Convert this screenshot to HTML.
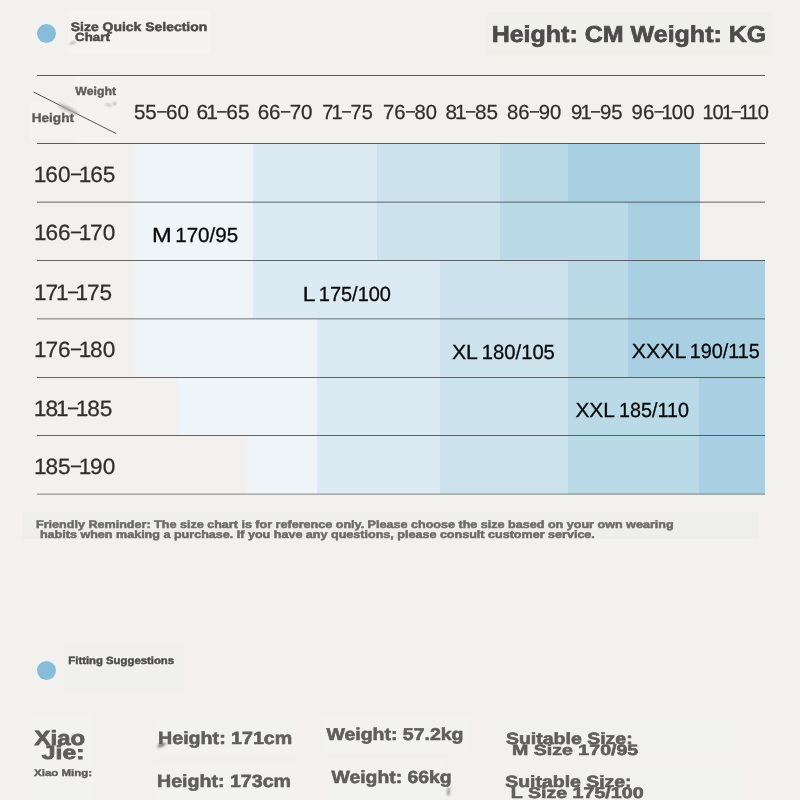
<!DOCTYPE html>
<html lang="en"><head><meta charset="utf-8"><title>Size Quick Selection Chart</title>
<style>
html,body{margin:0;padding:0}
body{width:800px;height:800px;overflow:hidden;background:#f3f1ed;position:relative;font-family:"Liberation Sans",Arial,Helvetica,sans-serif;text-rendering:geometricPrecision}
header,section,footer{display:block;margin:0;padding:0}
.a{position:absolute}
.row{left:0;width:800px}
.row i{top:0;height:100%;display:block}
.ln{left:37px;width:728px}
.dot{border-radius:50%;background:#86bdd8}
.t{position:absolute;left:0;white-space:pre;line-height:1;transform-origin:0 0;margin:0}
.b{font-weight:700}
.o{margin:0 -0.05em 0 -0.09em}
.d{display:inline-block;transform:scaleX(0.8);margin:0 -0.055em;position:relative;top:-0.09em}
</style></head><body>
<header class="title">
<div class="a p" style="left:67.5px;top:10px;width:143.5px;height:44px;background:#f4f3f0"></div>
<div class="a p" style="left:487px;top:12px;width:285px;height:43px;background:#f0f0eb"></div>
<div class="a dot" style="left:37.0px;top:24.0px;width:19.0px;height:19.0px"></div>
<div class="a" style="left:68.5px;top:42.0px;width:7px;height:2px;background:#8a8a88;border-radius:50%;opacity:0.7;filter:blur(1px);transform:rotate(-20deg)"></div>
<div class="t b" style="top:21px;font-size:12.28px;color:#4d4c4a;transform:translateX(70.80px) scaleX(1.1376);-webkit-text-stroke:0.5px #4d4c4a;">Size Quick Selection</div>
<div class="t b" style="top:32px;font-size:11.78px;color:#4d4c4a;transform:translateX(75.09px) scaleX(1.1298);-webkit-text-stroke:0.5px #4d4c4a;">Chart</div>
<div class="t b" style="top:23px;font-size:23.05px;color:#4d4c4a;transform:translateX(491.65px) scaleX(1.0852);-webkit-text-stroke:0.7px #4d4c4a;">Height: CM Weight: KG</div>
</header>
<section class="chart">
<div class="a p" style="left:74px;top:76px;width:46px;height:67px;background:#f4f3f0"></div>
<div class="a p" style="left:30px;top:102px;width:44px;height:38px;background:#f4f3f0"></div>
<div class="a row" style="top:143px;height:59px"><i class="a" style="left:135px;width:564.7px;background:#edf5f9"></i><i class="a" style="left:253px;width:446.7px;background:#dceaf3"></i><i class="a" style="left:377px;width:322.7px;background:#cce3ee"></i><i class="a" style="left:500.3px;width:199.4px;background:#bbdae8"></i><i class="a" style="left:567.5px;width:132.2px;background:#a8d0e2"></i></div>
<div class="a row" style="top:202px;height:58px"><i class="a" style="left:135px;width:564.7px;background:#edf5f9"></i><i class="a" style="left:253px;width:446.7px;background:#dceaf3"></i><i class="a" style="left:377px;width:322.7px;background:#cce3ee"></i><i class="a" style="left:500.3px;width:199.4px;background:#bbdae8"></i><i class="a" style="left:628.2px;width:71.5px;background:#a8d0e2"></i></div>
<div class="a row" style="top:260px;height:59px"><i class="a" style="left:135px;width:630.0px;background:#edf5f9"></i><i class="a" style="left:253px;width:512.0px;background:#dceaf3"></i><i class="a" style="left:440px;width:325.0px;background:#cce3ee"></i><i class="a" style="left:568px;width:197.0px;background:#bbdae8"></i><i class="a" style="left:628.2px;width:136.8px;background:#a8d0e2"></i></div>
<div class="a row" style="top:319px;height:58px"><i class="a" style="left:135px;width:630.0px;background:#edf5f9"></i><i class="a" style="left:317px;width:448.0px;background:#dceaf3"></i><i class="a" style="left:440px;width:325.0px;background:#cce3ee"></i><i class="a" style="left:568px;width:197.0px;background:#bbdae8"></i><i class="a" style="left:628.2px;width:136.8px;background:#a8d0e2"></i></div>
<div class="a row" style="top:377px;height:58px"><i class="a" style="left:178px;width:587.0px;background:#edf5f9"></i><i class="a" style="left:317px;width:448.0px;background:#dceaf3"></i><i class="a" style="left:440px;width:325.0px;background:#cce3ee"></i><i class="a" style="left:568px;width:197.0px;background:#bbdae8"></i><i class="a" style="left:699px;width:66.0px;background:#a8d0e2"></i></div>
<div class="a row" style="top:435px;height:59px"><i class="a" style="left:247px;width:518.0px;background:#edf5f9"></i><i class="a" style="left:317px;width:448.0px;background:#dceaf3"></i><i class="a" style="left:440px;width:325.0px;background:#cce3ee"></i><i class="a" style="left:568px;width:197.0px;background:#bbdae8"></i><i class="a" style="left:699px;width:66.0px;background:#a8d0e2"></i></div>
<div class="a ln" style="top:75px;height:1px;background:rgba(70,68,65,0.88)"></div>
<div class="a ln" style="top:143px;height:1px;background:rgba(70,68,65,0.88)"></div>
<div class="a ln" style="top:201px;height:2px;background:linear-gradient(to bottom,rgba(62,64,67,0.3) 50%,rgba(62,64,67,0.5) 50%)"></div>
<div class="a ln" style="top:260px;height:1px;background:rgba(66,65,66,0.8)"></div>
<div class="a ln" style="top:318px;height:2px;background:linear-gradient(to bottom,rgba(62,64,67,0.45) 50%,rgba(62,64,67,0.25) 50%)"></div>
<div class="a ln" style="top:377px;height:1px;background:rgba(66,65,66,0.8)"></div>
<div class="a ln" style="top:435px;height:1px;background:rgba(66,65,66,0.8)"></div>
<div class="a ln" style="top:493px;height:2px;background:linear-gradient(to bottom,rgba(80,78,75,0.25) 50%,rgba(80,78,75,0.42) 50%)"></div>
<svg class="a" style="left:30px;top:88px" width="90" height="50" viewBox="30 88 90 50"><line x1="33.5" y1="92" x2="116" y2="133.5" stroke="#55534f" stroke-width="1"/></svg>
<div class="a" style="left:57.5px;top:107.4px;width:20px;height:3px;background:#f3f1ed;border-radius:50%;opacity:0.9;filter:blur(1.2px);transform:rotate(26.7deg)"></div>
<div class="a" style="left:56.5px;top:107.2px;width:22px;height:3.5px;background:#8d8c89;border-radius:50%;opacity:0.75;filter:blur(1.6px);transform:rotate(26.7deg)"></div>
<div class="a" style="left:104.5px;top:104.2px;width:7px;height:2.2px;background:#9a9a98;border-radius:50%;opacity:0.65;filter:blur(1px);transform:rotate(15deg)"></div>
<div class="a" style="left:112.5px;top:101.8px;width:3.5px;height:3.5px;background:#858583;border-radius:50%;opacity:0.7;filter:blur(1px);transform:rotate(0deg)"></div>
<div class="t" style="top:103px;font-size:20.40px;color:#2f2f2e;transform:translateX(133.91px) scaleX(1.0089);-webkit-text-stroke:0.25px #2f2f2e;">55<span class="d">–</span>60</div>
<div class="t" style="top:103px;font-size:20.40px;color:#2f2f2e;transform:translateX(196.57px) scaleX(1.0254);-webkit-text-stroke:0.25px #2f2f2e;">6<span class="o">1</span><span class="d">–</span>65</div>
<div class="t" style="top:103px;font-size:20.40px;color:#2f2f2e;transform:translateX(257.63px) scaleX(1.0077);-webkit-text-stroke:0.25px #2f2f2e;">66<span class="d">–</span>70</div>
<div class="t" style="top:103px;font-size:20.40px;color:#2f2f2e;transform:translateX(322.28px) scaleX(0.9777);-webkit-text-stroke:0.25px #2f2f2e;">7<span class="o">1</span><span class="d">–</span>75</div>
<div class="t" style="top:103px;font-size:20.40px;color:#2f2f2e;transform:translateX(383.11px) scaleX(0.9879);-webkit-text-stroke:0.25px #2f2f2e;">76<span class="d">–</span>80</div>
<div class="t" style="top:103px;font-size:20.40px;color:#2f2f2e;transform:translateX(445.44px) scaleX(1.0169);-webkit-text-stroke:0.25px #2f2f2e;">8<span class="o">1</span><span class="d">–</span>85</div>
<div class="t" style="top:103px;font-size:20.40px;color:#2f2f2e;transform:translateX(507.10px) scaleX(0.9936);-webkit-text-stroke:0.25px #2f2f2e;">86<span class="d">–</span>90</div>
<div class="t" style="top:103px;font-size:20.40px;color:#2f2f2e;transform:translateX(571.03px) scaleX(0.9967);-webkit-text-stroke:0.25px #2f2f2e;">9<span class="o">1</span><span class="d">–</span>95</div>
<div class="t" style="top:103px;font-size:20.40px;color:#2f2f2e;transform:translateX(631.59px) scaleX(0.9980);-webkit-text-stroke:0.25px #2f2f2e;">96<span class="d">–</span><span class="o">1</span>00</div>
<div class="t" style="top:103px;font-size:20.40px;color:#2f2f2e;transform:translateX(704.25px) scaleX(0.9805);-webkit-text-stroke:0.25px #2f2f2e;"><span class="o">1</span>0<span class="o">1</span><span class="d">–</span><span class="o">1</span><span class="o">1</span>0</div>
<div class="t" style="top:164px;font-size:22.10px;color:#2f2f2e;transform:translateX(35.90px) scaleX(1.0260);-webkit-text-stroke:0.25px #2f2f2e;"><span class="o">1</span>60<span class="d">–</span><span class="o">1</span>65</div>
<div class="t" style="top:222px;font-size:22.10px;color:#2f2f2e;transform:translateX(36.00px) scaleX(1.0228);-webkit-text-stroke:0.25px #2f2f2e;"><span class="o">1</span>66<span class="d">–</span><span class="o">1</span>70</div>
<div class="t" style="top:282px;font-size:22.10px;color:#2f2f2e;transform:translateX(35.98px) scaleX(1.0222);-webkit-text-stroke:0.25px #2f2f2e;"><span class="o">1</span>7<span class="o">1</span><span class="d">–</span><span class="o">1</span>75</div>
<div class="t" style="top:339px;font-size:22.10px;color:#2f2f2e;transform:translateX(36.00px) scaleX(1.0228);-webkit-text-stroke:0.25px #2f2f2e;"><span class="o">1</span>76<span class="d">–</span><span class="o">1</span>80</div>
<div class="t" style="top:398px;font-size:22.10px;color:#2f2f2e;transform:translateX(35.91px) scaleX(1.0286);-webkit-text-stroke:0.25px #2f2f2e;"><span class="o">1</span>8<span class="o">1</span><span class="d">–</span><span class="o">1</span>85</div>
<div class="t" style="top:456px;font-size:22.10px;color:#2f2f2e;transform:translateX(36.00px) scaleX(1.0228);-webkit-text-stroke:0.25px #2f2f2e;"><span class="o">1</span>85<span class="d">–</span><span class="o">1</span>90</div>
<div class="lab"><div class="t" style="top:226px;font-size:20.40px;color:#0a0a0a;transform:translateX(152.03px) scaleX(1.1640);-webkit-text-stroke:0.3px #0a0a0a;">M</div> <div class="t" style="top:226px;font-size:20.40px;color:#0a0a0a;transform:translateX(175.25px) scaleX(1.0075);-webkit-text-stroke:0.3px #0a0a0a;">170/95</div></div>
<div class="lab"><div class="t" style="top:285px;font-size:20.40px;color:#0a0a0a;transform:translateX(302.67px) scaleX(1.1139);-webkit-text-stroke:0.3px #0a0a0a;">L</div> <div class="t" style="top:285px;font-size:20.40px;color:#0a0a0a;transform:translateX(318.78px) scaleX(0.9791);-webkit-text-stroke:0.3px #0a0a0a;">175/100</div></div>
<div class="lab"><div class="t" style="top:343px;font-size:20.40px;color:#0a0a0a;transform:translateX(451.92px) scaleX(1.0440);-webkit-text-stroke:0.3px #0a0a0a;">XL</div> <div class="t" style="top:343px;font-size:20.40px;color:#0a0a0a;transform:translateX(481.80px) scaleX(0.9912);-webkit-text-stroke:0.3px #0a0a0a;">180/105</div></div>
<div class="lab"><div class="t" style="top:342px;font-size:20.40px;color:#0a0a0a;transform:translateX(631.74px) scaleX(1.0497);-webkit-text-stroke:0.3px #0a0a0a;">XXXL</div> <div class="t" style="top:342px;font-size:20.40px;color:#0a0a0a;transform:translateX(689.74px) scaleX(0.9704);-webkit-text-stroke:0.3px #0a0a0a;">190/115</div></div>
<div class="lab"><div class="t" style="top:401px;font-size:20.40px;color:#0a0a0a;transform:translateX(575.39px) scaleX(1.0238);-webkit-text-stroke:0.3px #0a0a0a;">XXL</div> <div class="t" style="top:401px;font-size:20.40px;color:#0a0a0a;transform:translateX(618.93px) scaleX(0.9699);-webkit-text-stroke:0.3px #0a0a0a;">185/110</div></div>
<div class="t b" style="top:86px;font-size:11.61px;color:#5e5d5b;transform:translateX(75.31px) scaleX(1.0580);-webkit-text-stroke:0.4px #5e5d5b;">Weight</div>
<div class="t b" style="top:112px;font-size:12.39px;color:#5e5d5b;transform:translateX(31.63px) scaleX(1.1028);-webkit-text-stroke:0.4px #5e5d5b;">Height</div>
</section>
<section class="note">
<div class="a p" style="left:22px;top:512px;width:737px;height:27px;background:#eeeeea"></div>
<div class="t b" style="top:520px;font-size:10.86px;color:#6c6b68;transform:translateX(36.00px) scaleX(1.1577);-webkit-text-stroke:0.5px #6c6b68;">Friendly Reminder: The size chart is for reference only. Please choose the size based on your own wearing</div>
<div class="t b" style="top:530px;font-size:10.80px;color:#6c6b68;transform:translateX(39.93px) scaleX(1.1633);-webkit-text-stroke:0.5px #6c6b68;">habits when making a purchase. If you have any questions, please consult customer service.</div>
</section>
<section class="fitting">
<div class="a p" style="left:65px;top:646px;width:119.5px;height:46px;background:#f0f0ec"></div>
<div class="a p" style="left:33px;top:714px;width:60px;height:86px;background:#f2f2ee"></div>
<div class="a p" style="left:155px;top:719px;width:142px;height:35px;background:#f2f2ee"></div>
<div class="a p" style="left:155px;top:764px;width:142px;height:36px;background:#f2f2ee"></div>
<div class="a p" style="left:322px;top:715px;width:148px;height:38px;background:#f2f2ee"></div>
<div class="a p" style="left:328px;top:758px;width:117px;height:42px;background:#f2f2ee"></div>
<div class="a p" style="left:500px;top:721px;width:240px;height:33px;background:#f1f1ed"></div>
<div class="a p" style="left:500px;top:764px;width:241px;height:36px;background:#f1f1ed"></div>
<div class="a dot" style="left:36.8px;top:660.7px;width:19.0px;height:19.0px"></div>
<div class="a" style="left:157.0px;top:743.0px;width:9px;height:4px;background:#6a6966;border-radius:50%;opacity:0.75;filter:blur(1.3px);transform:rotate(-25deg)"></div>
<div class="a" style="left:446.5px;top:787.0px;width:3px;height:9px;background:#8a8a88;border-radius:50%;opacity:0.8;filter:blur(1.2px);transform:rotate(5deg)"></div>
<div class="t b" style="top:657px;font-size:10.49px;color:#4d4c4a;transform:translateX(68.32px) scaleX(1.0804);-webkit-text-stroke:0.45px #4d4c4a;">Fitting Suggestions</div>
<div class="t b" style="top:729px;font-size:20.64px;color:#5f5e5b;transform:translateX(34.61px) scaleX(1.1562);-webkit-text-stroke:0.8px #5f5e5b;">Xiao</div>
<div class="t b" style="top:744px;font-size:19.23px;color:#5f5e5b;transform:translateX(41.83px) scaleX(1.2844);-webkit-text-stroke:0.8px #5f5e5b;">Jie:</div>
<div class="t b" style="top:768px;font-size:9.43px;color:#5f5e5b;transform:translateX(34.05px) scaleX(1.2186);-webkit-text-stroke:0.4px #5f5e5b;">Xiao Ming:</div>
<div class="t b" style="top:730px;font-size:17.61px;color:#5f5e5b;transform:translateX(158.06px) scaleX(1.1148);-webkit-text-stroke:0.6px #5f5e5b;">Height: 171cm</div>
<div class="t b" style="top:773px;font-size:17.62px;color:#5f5e5b;transform:translateX(157.00px) scaleX(1.1129);-webkit-text-stroke:0.6px #5f5e5b;">Height: 173cm</div>
<div class="t b" style="top:726px;font-size:17.17px;color:#5f5e5b;transform:translateX(326.44px) scaleX(1.1348);-webkit-text-stroke:0.6px #5f5e5b;">Weight: 57.2kg</div>
<div class="t b" style="top:769px;font-size:17.61px;color:#5f5e5b;transform:translateX(331.53px) scaleX(1.0997);-webkit-text-stroke:0.6px #5f5e5b;">Weight: 66kg</div>
<div class="t b" style="top:731px;font-size:16.24px;color:#5f5e5b;transform:translateX(505.92px) scaleX(1.2013);-webkit-text-stroke:0.6px #5f5e5b;">Suitable Size:</div>
<div class="t b" style="top:743px;font-size:14.99px;color:#5f5e5b;transform:translateX(512.00px) scaleX(1.3067);-webkit-text-stroke:0.6px #5f5e5b;">M Size 170/95</div>
<div class="t b" style="top:774px;font-size:16.25px;color:#5f5e5b;transform:translateX(505.27px) scaleX(1.1955);-webkit-text-stroke:0.6px #5f5e5b;">Suitable Size:</div>
<div class="t b" style="top:786px;font-size:15.45px;color:#5f5e5b;transform:translateX(510.81px) scaleX(1.2711);-webkit-text-stroke:0.6px #5f5e5b;">L Size 175/100</div>
</section>
</body></html>
